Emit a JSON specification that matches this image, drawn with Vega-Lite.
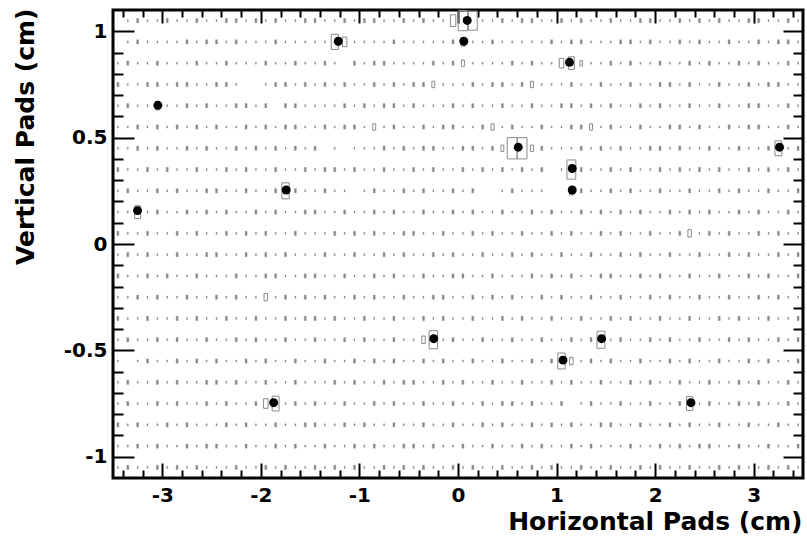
{
  "$schema": "https://vega.github.io/schema/vega-lite/v6.json",
  "width": 690,
  "height": 468,
  "autosize": "none",
  "padding": {"left": 113, "top": 10, "right": 4, "bottom": 68},
  "background": "white",
  "config": {
    "view": {"stroke": "#000000", "strokeWidth": 3},
    "axis": {
      "domain": false, "grid": false, "tickColor": "#000000", "tickWidth": 2,
      "labelFont": "DejaVu Sans", "labelFontWeight": "bold", "labelFontSize": 20, "labelColor": "#000000",
      "titleFont": "DejaVu Sans", "titleFontWeight": "bold", "titleFontSize": 25, "titleColor": "#000000",
      "labelOverlap": false, "labelFlush": false, "labelBound": false
    }
  },
  "datasets": {
    "dots": [
      {"x": -3.045, "y": 0.652}, {"x": -3.251, "y": 0.157}, {"x": -1.215, "y": 0.953}, {"x": -1.743, "y": 0.254},
      {"x": 0.093, "y": 1.051}, {"x": 0.059, "y": 0.953}, {"x": 1.131, "y": 0.854}, {"x": 0.611, "y": 0.455},
      {"x": 1.159, "y": 0.355}, {"x": 1.159, "y": 0.254}, {"x": 3.262, "y": 0.455}, {"x": -0.246, "y": -0.445},
      {"x": 1.457, "y": -0.445}, {"x": 1.065, "y": -0.546}, {"x": -1.87, "y": -0.746}, {"x": 2.363, "y": -0.746}
    ]
  },
  "layer": [
    {
      "data": {"values": [
        {"j":21,"i":[0,1,2,3,4,5,6,7,8,9,10,11,12,13,14,15,16,17,18,19,20,21,22,23,24,25,26,27,28,29,30,31,32,33,34,35,36,37,38,39,40,41,42,43,44,45,46,47,48,49,50,51,52,53,54,55,56,57,58,59,60,61,62,63,64,65,66,67,68,69],"c":[0,1,2,1,1,2,1,1,2,1,1,2,2,1,2,1,2,1,1,2,2,1,1,2,1,2,2,1,1,2,1,2,1,1,5.5,9.5,9,1,1,2,1,2,2,1,1,2,1,2,1,1,2,1,1,2,2,1,1,2,1,2,1,2,1,1,2,2,1,1,2,1]},
        {"j":20,"i":[0,1,2,3,4,5,6,7,8,9,10,11,12,13,14,15,16,17,18,19,20,21,22,23,24,25,26,27,28,29,30,31,32,33,34,35,36,37,38,39,40,41,42,43,44,45,46,47,48,49,50,51,52,53,54,55,56,57,58,59,60,61,62,63,64,65,66,67,68,69],"c":[0,1,2,1,1,1,1,2,1,2,2,1,2,1,1,1,2,1,1,1,1,1,7.2,4.5,1,1,1,1,2,1,1,1,1,1,2,4,1,1,2,1,1,1,1,1,2,1,2,2,1,1,1,2,2,1,2,1,1,2,1,2,1,1,2,1,1,2,1,2,2,1]},
        {"j":19,"i":[0,1,2,3,4,5,6,7,8,9,10,11,12,13,14,15,16,17,18,19,20,21,22,23,24,25,26,27,28,29,30,31,32,33,34,35,36,37,38,39,40,41,42,43,44,45,46,47,48,49,50,51,52,53,54,55,56,57,58,59,60,61,62,63,64,65,66,67,68,69],"c":[1,2,1,1,2,1,1,1,2,1,1,2,1,1,1,2,1,1,2,1,1,2,1,0,2,1,2,2,1,1,1,1,2,1,2,3,1,1,1,1,2,1,2,1,1,4.5,6,2.5,1,1,2,1,2,1,1,2,1,1,2,1,2,1,1,2,1,2,1,1,2,1]},
        {"j":18,"i":[0,1,2,3,4,5,6,7,8,9,10,11,12,13,14,15,16,17,18,19,20,21,22,23,24,25,26,27,28,29,30,31,32,33,34,35,36,37,38,39,40,41,42,43,44,45,46,47,48,49,50,51,52,53,54,55,56,57,58,59,60,61,62,63,64,65,66,67,68,69],"c":[2,1,1,2,2,1,2,2,1,1,2,2,1,0,0,1,2,2,1,2,1,2,1,2,1,1,2,1,2,1,2,2,3,1,1,1,2,1,2,2,1,2,3,1,1,1,2,1,1,2,1,1,2,1,1,2,2,1,2,1,1,2,1,1,2,1,2,2,1,1]},
        {"j":17,"i":[0,1,2,3,4,5,6,7,8,9,10,11,12,13,14,15,16,17,18,19,20,21,22,23,24,25,26,27,28,29,30,31,32,33,34,35,36,37,38,39,40,41,42,43,44,45,46,47,48,49,50,51,52,53,54,55,56,57,58,59,60,61,62,63,64,65,66,67,68,69],"c":[1,2,1,1,4,1,1,2,1,2,1,1,2,2,1,2,0,2,2,1,1,1,1,2,1,2,1,2,2,1,2,1,1,1,2,1,2,1,1,2,1,1,2,1,1,2,2,1,2,1,2,1,1,2,1,2,1,1,2,1,1,2,1,1,2,2,1,1,2,1]},
        {"j":16,"i":[0,1,2,3,4,5,6,7,8,9,10,11,12,13,14,15,16,17,18,19,20,21,22,23,24,25,26,27,28,29,30,31,32,33,34,35,36,37,38,39,40,41,42,43,44,45,46,47,48,49,50,51,52,53,54,55,56,57,58,59,60,61,62,63,64,65,66,67,68,69],"c":[1,1,2,1,2,1,2,1,2,1,2,1,1,2,1,2,1,2,2,1,1,2,1,2,2,1,3,1,2,1,1,2,1,2,2,1,1,2,3,1,2,1,1,2,1,1,2,2,3,1,2,1,1,2,1,1,2,2,1,2,1,1,2,1,2,2,1,1,2,1]},
        {"j":15,"i":[0,1,2,3,4,5,6,7,8,9,10,11,12,13,14,15,16,17,18,19,20,21,22,23,24,25,26,27,28,29,30,31,32,33,34,35,36,37,38,39,40,41,42,43,44,45,46,47,48,49,50,51,52,53,54,55,56,57,58,59,60,61,62,63,64,65,66,67,68,69],"c":[1,1,2,1,2,1,1,2,1,2,1,1,2,1,2,1,2,1,2,1,2,0,1,0,1,1,1,2,1,2,1,2,2,1,1,2,2,1,2,3,10,10,3,2,1,1,1,2,1,2,1,2,1,1,2,2,1,2,1,1,2,1,1,2,1,1,2,7,1,2]},
        {"j":14,"i":[0,1,2,3,4,5,6,7,8,9,10,11,12,13,14,15,16,17,18,19,20,21,22,23,24,25,26,27,28,29,30,31,32,33,34,35,36,37,38,39,40,41,42,43,44,45,46,47,48,49,50,51,52,53,54,55,56,57,58,59,60,61,62,63,64,65,66,67,68,69],"c":[2,1,1,2,1,2,1,1,2,1,1,2,1,2,1,1,2,1,1,2,1,2,2,1,2,1,1,2,1,1,2,1,2,1,1,2,1,2,1,2,1,2,1,2,0,1,9,2,1,1,2,1,2,1,1,2,1,2,1,2,1,2,1,1,2,1,2,1,2,1]},
        {"j":13,"i":[0,1,2,3,4,5,6,7,8,9,10,11,12,13,14,15,16,17,18,19,20,21,22,23,24,25,26,27,28,29,30,31,32,33,34,35,36,37,38,39,40,41,42,43,44,45,46,47,48,49,50,51,52,53,54,55,56,57,58,59,60,61,62,63,64,65,66,67,68,69],"c":[1,2,1,1,2,1,2,1,1,2,2,1,1,2,1,1,2,7.5,2,1,1,2,1,1,0,1,2,1,1,2,1,2,1,1,2,1,2,0,0,1,2,1,1,1,0,0,4,2,1,1,2,1,2,1,1,2,1,1,2,1,1,2,1,2,1,1,2,1,1,2]},
        {"j":12,"i":[0,1,2,3,4,5,6,7,8,9,10,11,12,13,14,15,16,17,18,19,20,21,22,23,24,25,26,27,28,29,30,31,32,33,34,35,36,37,38,39,40,41,42,43,44,45,46,47,48,49,50,51,52,53,54,55,56,57,58,59,60,61,62,63,64,65,66,67,68,69],"c":[1,1,6,1,2,1,1,2,1,2,1,2,1,1,2,1,2,1,1,2,2,1,1,2,1,1,2,1,2,1,1,2,1,1,2,1,2,1,1,2,1,1,2,1,2,1,1,2,1,2,1,2,1,2,1,1,2,1,2,1,2,1,1,2,1,2,1,1,2,1]},
        {"j":11,"i":[0,1,2,3,4,5,6,7,8,9,10,11,12,13,14,15,16,17,18,19,20,21,22,23,24,25,26,27,28,29,30,31,32,33,34,35,36,37,38,39,40,41,42,43,44,45,46,47,48,49,50,51,52,53,54,55,56,57,58,59,60,61,62,63,64,65,66,67,68,69],"c":[2,1,1,2,1,1,2,1,2,1,1,2,1,2,1,2,1,1,2,1,1,1,2,1,2,1,2,1,1,2,2,1,1,2,1,1,2,1,2,1,1,2,1,1,2,1,2,1,1,2,1,2,1,1,2,1,1,2,3.5,1,2,1,2,1,1,2,1,2,1,1]},
        {"j":10,"i":[0,1,2,3,4,5,6,7,8,9,10,11,12,13,14,15,16,17,18,19,20,21,22,23,24,25,26,27,28,29,30,31,32,33,34,35,36,37,38,39,40,41,42,43,44,45,46,47,48,49,50,51,52,53,54,55,56,57,58,59,60,61,62,63,64,65,66,67,68,69],"c":[1,2,1,2,1,1,2,1,1,2,2,1,1,2,1,2,1,2,1,1,1,2,1,1,2,1,1,2,1,2,1,1,2,1,2,1,1,2,1,1,2,1,2,1,1,2,1,1,2,1,1,2,1,2,1,1,2,1,1,2,1,1,2,1,2,1,1,2,1,2]},
        {"j":9,"i":[0,1,2,3,4,5,6,7,8,9,10,11,12,13,14,15,16,17,18,19,20,21,22,23,24,25,26,27,28,29,30,31,32,33,34,35,36,37,38,39,40,41,42,43,44,45,46,47,48,49,50,51,52,53,54,55,56,57,58,59,60,61,62,63,64,65,66,67,68,69],"c":[2,1,1,2,1,2,1,1,2,1,1,1,2,1,1,2,2,1,1,2,2,1,1,2,1,1,2,1,2,1,1,2,1,1,2,2,1,1,2,1,1,1,2,1,2,1,2,1,1,2,2,1,1,2,1,2,1,1,2,1,1,2,1,1,2,1,2,1,1,2]},
        {"j":8,"i":[0,1,2,3,4,5,6,7,8,9,10,11,12,13,14,15,16,17,18,19,20,21,22,23,24,25,26,27,28,29,30,31,32,33,34,35,36,37,38,39,40,41,42,43,44,45,46,47,48,49,50,51,52,53,54,55,56,57,58,59,60,61,62,63,64,65,66,67,68,69],"c":[1,1,2,1,2,1,1,2,1,1,2,1,2,1,1,3.5,1,2,1,2,1,2,1,1,2,1,2,1,1,2,1,1,2,2,1,1,2,1,2,1,2,1,1,2,1,2,1,1,2,1,1,2,1,1,2,1,2,1,1,2,1,1,2,1,1,2,1,2,1,1]},
        {"j":7,"i":[0,1,2,3,4,5,6,7,8,9,10,11,12,13,14,15,16,17,18,19,20,21,22,23,24,25,26,27,28,29,30,31,32,33,34,35,36,37,38,39,40,41,42,43,44,45,46,47,48,49,50,51,52,53,54,55,56,57,58,59,60,61,62,63,64,65,66,67,68,69],"c":[2,1,1,2,1,1,2,1,2,1,1,2,1,1,2,1,1,2,1,2,2,1,2,1,1,2,1,1,2,1,1,2,1,2,1,1,2,1,1,2,1,2,1,1,2,1,1,2,1,1,2,1,2,1,1,2,1,1,2,1,1,2,1,2,1,1,2,1,1,2]},
        {"j":6,"i":[0,1,2,3,4,5,6,7,8,9,10,11,12,13,14,15,16,17,18,19,20,21,22,23,24,25,26,27,28,29,30,31,32,33,34,35,36,37,38,39,40,41,42,43,44,45,46,47,48,49,50,51,52,53,54,55,56,57,58,59,60,61,62,63,64,65,66,67,68,69],"c":[1,2,1,1,2,1,2,1,1,2,1,1,2,1,2,1,1,2,1,1,2,1,1,2,1,2,1,1,2,1,1,3.5,8.5,1,2,1,1,2,1,1,2,1,1,2,1,1,2,1,2,8,1,2,1,1,2,1,2,1,1,2,1,1,2,1,2,1,1,2,1,2]},
        {"j":5,"i":[0,1,2,3,4,5,6,7,8,9,10,11,12,13,14,15,16,17,18,19,20,21,22,23,24,25,26,27,28,29,30,31,32,33,34,35,36,37,38,39,40,41,42,43,44,45,46,47,48,49,50,51,52,53,54,55,56,57,58,59,60,61,62,63,64,65,66,67,68,69],"c":[1,0,1,2,1,1,2,1,2,1,2,1,1,2,1,2,1,1,2,1,1,2,1,1,2,1,2,1,2,1,1,2,1,2,1,1,2,1,1,2,1,1,2,1,2,7.5,3.5,1,2,1,2,1,1,2,1,1,2,1,2,1,1,2,1,1,2,1,2,1,1,2]},
        {"j":4,"i":[0,1,2,3,4,5,6,7,8,9,10,11,12,13,14,15,16,17,18,19,20,21,22,23,24,25,26,27,28,29,30,31,32,33,34,35,36,37,38,39,40,41,42,43,44,45,46,47,48,49,50,51,52,53,54,55,56,57,58,59,60,61,62,63,64,65,66,67,68,69],"c":[1,2,1,1,2,1,2,1,1,2,2,1,2,1,1,2,1,1,2,1,1,1,2,1,2,1,1,2,1,2,2,1,1,2,1,2,1,1,2,1,1,2,1,1,2,1,2,1,1,2,1,1,2,1,2,1,1,2,1,1,2,1,1,2,1,2,1,1,2,1]},
        {"j":3,"i":[0,1,2,3,4,5,6,7,8,9,10,11,12,13,14,15,16,17,18,19,20,21,22,23,24,25,26,27,28,29,30,31,32,33,34,35,36,37,38,39,40,41,42,43,44,45,46,47,48,49,50,51,52,53,54,55,56,57,58,59,60,61,62,63,64,65,66,67,68,69],"c":[1,2,1,1,2,1,2,1,1,2,1,2,1,1,2,4.5,7,1,2,1,2,1,1,2,1,1,2,1,2,1,1,2,1,1,2,1,1,2,1,2,2,1,2,1,1,2,0,1,2,1,1,2,1,1,2,1,1,2,6.5,1,2,1,1,2,1,2,1,1,2,1]},
        {"j":2,"i":[0,1,2,3,4,5,6,7,8,9,10,11,12,13,14,15,16,17,18,19,20,21,22,23,24,25,26,27,28,29,30,31,32,33,34,35,36,37,38,39,40,41,42,43,44,45,46,47,48,49,50,51,52,53,54,55,56,57,58,59,60,61,62,63,64,65,66,67,68,69],"c":[2,1,2,1,1,2,1,2,1,1,1,2,1,2,1,1,2,1,1,2,2,1,1,2,1,2,1,1,2,1,1,2,1,1,2,1,1,2,1,2,1,1,2,1,2,1,2,1,1,2,2,1,1,2,1,1,2,1,2,1,1,2,1,1,2,1,1,2,1,1]},
        {"j":1,"i":[0,1,2,3,4,5,6,7,8,9,10,11,12,13,14,15,16,17,18,19,20,21,22,23,24,25,26,27,28,29,30,31,32,33,34,35,36,37,38,39,40,41,42,43,44,45,46,47,48,49,50,51,52,53,54,55,56,57,58,59,60,61,62,63,64,65,66,67,68,69],"c":[1,1,2,1,2,1,1,2,1,2,2,1,1,2,1,1,2,1,2,1,1,2,1,1,2,1,2,1,1,2,2,1,2,1,1,2,1,1,2,1,1,2,1,2,1,1,2,1,2,1,1,1,2,1,1,2,1,2,1,2,2,1,1,2,1,1,2,1,1,2]},
        {"j":0,"i":[0,1,2,3,4,5,6,7,8,9,10,11,12,13,14,15,16,17,18,19,20,21,22,23,24,25,26,27,28,29,30,31,32,33,34,35,36,37,38,39,40,41,42,43,44,45,46,47,48,49,50,51,52,53,54,55,56,57,58,59,60,61,62,63,64,65,66,67,68,69],"c":[1,2,1,1,2,1,2,1,2,1,1,1,2,1,1,2,1,2,1,1,2,1,2,1,2,1,1,2,1,2,1,2,1,1,2,1,2,1,1,2,1,1,2,1,2,1,1,2,1,1,2,1,1,2,1,2,1,1,2,1,1,2,1,2,1,1,2,1,2,1]}
      ]},
      "transform": [{"flatten": ["i", "c"]}, {"filter": "datum.c > 0"}],
      "mark": {"type": "point", "shape": "M-0.463,-1H0.463V1H-0.463Z", "filled": false, "stroke": "#8a8a8a", "opacity": 1},
      "encoding": {
        "x": {"field": "i", "type": "quantitative", "scale": {"domain": [-0.5, 69.5], "nice": false, "zero": false}, "axis": null},
        "y": {"field": "j", "type": "quantitative", "scale": {"domain": [-0.5, 21.5], "nice": false, "zero": false}, "axis": null},
        "size": {"field": "c", "type": "quantitative", "scale": {"type": "pow", "exponent": 2, "domain": [0, 10], "range": [0, 453]}, "legend": null},
        "fill": {"condition": {"test": "datum.c <= 2", "value": "#888888"}, "value": "transparent"},
        "strokeWidth": {"condition": {"test": "datum.c <= 2", "value": 0.4}, "value": 1}
      }
    },
    {
      "data": {"name": "dots"},
      "mark": {"type": "circle", "color": "#000000", "size": 80, "opacity": 1},
      "encoding": {
        "x": {"field": "x", "type": "quantitative", "scale": {"domain": [-3.5, 3.5], "nice": false, "zero": false},
          "axis": {"orient": "bottom",
            "values": [-3.4,-3.2,-3,-2.8,-2.6,-2.4,-2.2,-2,-1.8,-1.6,-1.4,-1.2,-1,-0.8,-0.6,-0.4,-0.2,0,0.2,0.4,0.6,0.8,1,1.2,1.4,1.6,1.8,2,2.2,2.4,2.6,2.8,3,3.2,3.4],
            "labelExpr": "abs(datum.value-round(datum.value))<0.01 ? toString(round(datum.value)) : ''",
            "tickSize": {"condition": {"test": "abs(datum.value-round(datum.value))<0.01", "value": -15}, "value": -8},
            "labelPadding": 38, "labelBaseline": "alphabetic",
            "title": "Horizontal Pads (cm)", "titleX": 689, "titleY": 51, "titleAlign": "right", "titleAnchor": "end", "titleBaseline": "alphabetic"}},
        "y": {"field": "y", "type": "quantitative", "scale": {"domain": [-1.1, 1.1], "nice": false, "zero": false},
          "axis": {"orient": "left",
            "values": [-1,-0.9,-0.8,-0.7,-0.6,-0.5,-0.4,-0.3,-0.2,-0.1,0,0.1,0.2,0.3,0.4,0.5,0.6,0.7,0.8,0.9,1],
            "labelExpr": "abs(datum.value*2-round(datum.value*2))<0.01 ? toString(round(datum.value*10)/10) : ''",
            "tickSize": {"condition": {"test": "abs(datum.value*2-round(datum.value*2))<0.01", "value": -21}, "value": -10},
            "labelPadding": 27,
            "title": "Vertical Pads (cm)", "titleX": -80, "titleY": -2, "titleAngle": 270, "titleAlign": "right", "titleAnchor": "end", "titleBaseline": "alphabetic"}}
      }
    },
    {
      "data": {"name": "dots"},
      "mark": {"type": "circle", "opacity": 0},
      "encoding": {
        "x": {"field": "x", "type": "quantitative", "scale": {"domain": [-3.5, 3.5], "nice": false, "zero": false},
          "axis": {"orient": "top", "labels": false, "title": null,
            "values": [-3.4,-3.2,-3,-2.8,-2.6,-2.4,-2.2,-2,-1.8,-1.6,-1.4,-1.2,-1,-0.8,-0.6,-0.4,-0.2,0,0.2,0.4,0.6,0.8,1,1.2,1.4,1.6,1.8,2,2.2,2.4,2.6,2.8,3,3.2,3.4],
            "tickSize": {"condition": {"test": "abs(datum.value-round(datum.value))<0.01", "value": -13}, "value": -7}}},
        "y": {"field": "y", "type": "quantitative", "scale": {"domain": [-1.1, 1.1], "nice": false, "zero": false},
          "axis": {"orient": "right", "labels": false, "title": null,
            "values": [-1,-0.9,-0.8,-0.7,-0.6,-0.5,-0.4,-0.3,-0.2,-0.1,0,0.1,0.2,0.3,0.4,0.5,0.6,0.7,0.8,0.9,1],
            "tickSize": {"condition": {"test": "abs(datum.value*2-round(datum.value*2))<0.01", "value": -20}, "value": -10}}}
      }
    }
  ],
  "resolve": {"scale": {"x": "independent", "y": "independent"}, "axis": {"x": "independent", "y": "independent"}}
}
